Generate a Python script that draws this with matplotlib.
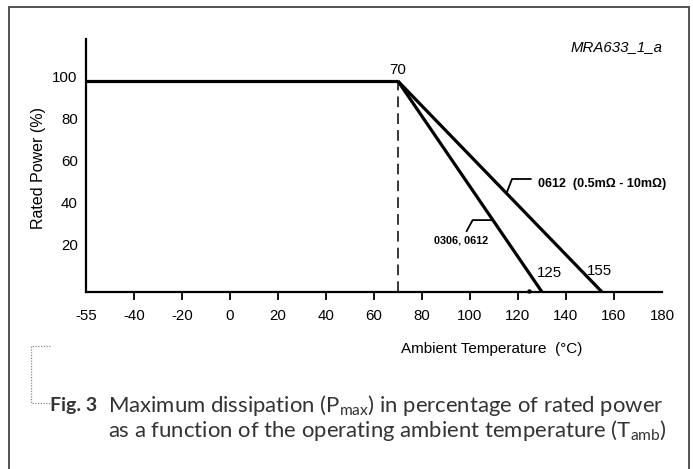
import matplotlib
matplotlib.use("Agg")
import matplotlib.pyplot as plt
from matplotlib.transforms import ScaledTranslation
from matplotlib.patches import Rectangle
from matplotlib.lines import Line2D
from matplotlib import font_manager

# ---- data ----
temp_flat = [-60, 70]
power_flat = [100, 100]
temp_a = [70, 130]        # 0306, 0612
power_a = [100, 0]
temp_b = [70, 155]        # 0612 (0.5mΩ - 10mΩ)
power_b = [100, 0]
knee_temp = 70
xtick_pos = [-60, -40, -20, 0, 20, 40, 60, 80, 100, 120, 140, 160, 180]
xtick_labels = ["-55", "-40", "-20", "0", "20", "40", "60", "80", "100", "120", "140", "160", "180"]
ytick_pos = [20, 40, 60, 80, 100]
ytick_labels = ["20", "40", "60", "80", "100"]

plt.rcParams["mathtext.fontset"] = "custom"
plt.rcParams["mathtext.rm"] = "Lato"
plt.rcParams["mathtext.it"] = "Lato:italic"

names = {f.name for f in font_manager.fontManager.ttflist}
narrow = "Liberation Sans Narrow" if "Liberation Sans Narrow" in names else "Liberation Sans"
narrow_size = 9 if narrow == "Liberation Sans Narrow" else 7.8

W, H = 693, 469
fig = plt.figure(figsize=(W / 100, H / 100), dpi=100)

def fx(px):
    return px / W

def fy(py):
    return 1 - py / H

# axes placement (pixels)
L, R, T, B = 86, 662, 39, 292
ax = fig.add_axes([fx(L), fy(B), fx(R - L), (B - T) / H])
ax.set_xlim(-60, 180)
ax.set_ylim(0, 120)
ax.patch.set_alpha(0)

for s in ["top", "right"]:
    ax.spines[s].set_visible(False)
for s in ["left", "bottom"]:
    ax.spines[s].set_linewidth(1.6)
    ax.spines[s].set_color("black")

tickfont = dict(family="Liberation Sans", size=10.8)
ax.set_xticks(xtick_pos)
ax.set_xticklabels(xtick_labels, **tickfont)
ax.set_yticks(ytick_pos)
ax.set_yticklabels(ytick_labels, **tickfont)
ax.tick_params(axis="x", direction="out", length=6, width=1.3, pad=6)
ax.tick_params(axis="y", length=0, pad=6)
xt = ax.xaxis.get_major_ticks()
for i in (0, len(xt) - 1):
    xt[i].tick1line.set_visible(False)
off = ScaledTranslation(0, 0.05, fig.dpi_scale_trans)
for lab in ax.get_yticklabels():
    lab.set_transform(lab.get_transform() + off)

lw = 2.3
ax.plot(temp_flat, power_flat, color="black", lw=lw, solid_capstyle="butt", clip_on=False)
ax.plot(temp_a, power_a, color="black", lw=lw, solid_capstyle="butt", clip_on=False)
ax.plot(temp_b, power_b, color="black", lw=lw, solid_capstyle="butt", clip_on=False)
ax.plot([knee_temp, knee_temp], [0, 100], color="black", lw=1.1, dashes=(7, 4))
ax.plot([124.7], [0.4], marker="o", ms=2.2, color="black", clip_on=False)

labfont = dict(family="Liberation Sans", size=10.8, color="black")
ax.text(70, 105.2, "70", ha="center", va="center", **labfont)
ax.text(132.9, 9.0, "125", ha="center", va="center", **labfont)
ax.text(153.8, 10.0, "155", ha="center", va="center", **labfont)

# leaders + annotations
ax.plot([115.3, 117.5, 125.3], [47.1, 53.6, 53.6], color="black", lw=1.3)
ax.text(128.3, 51.4, "0612  (0.5m\u03a9 - 10m\u03a9)", ha="left", va="center",
        family="Liberation Sans", weight="bold", size=9)
ax.plot([98.6, 101.1, 109.0], [28.9, 34.1, 34.1], color="black", lw=1.3)
ax.text(96.2, 24.6, "0306, 0612", ha="center", va="center",
        family=narrow, weight="bold", size=narrow_size)

# outside texts
fig.text(fx(663), fy(47), "MRA633_1_a", ha="right", va="center",
         family="Liberation Sans", style="italic", size=10.8)
fig.text(fx(38), fy(168), "Rated Power (%)", rotation=90, ha="center", va="center",
         family="Liberation Sans", size=11.5)
fig.text(fx(492), fy(349), "Ambient Temperature  (\u00b0C)", ha="center", va="center",
         family="Liberation Sans", size=11)

# frame
fig.patches.append(Rectangle((fx(9), fy(480)), fx(680), (480 - 7) / H, transform=fig.transFigure,
                             fill=False, edgecolor="#444444", lw=1.3))
# dotted bracket
fig.lines.append(Line2D([fx(50), fx(31), fx(31), fx(50)], [fy(346), fy(346), fy(403), fy(403)],
                        transform=fig.transFigure, color="#888888", lw=0.9, linestyle=(0, (1, 1.2))))

capc = "#333333"
fig.text(fx(50), fy(406), "Fig. 3", ha="left", va="center", family="Lato", weight="bold",
         size=14, color=capc)
fig.text(fx(108), fy(406), r"Maximum dissipation (P$_{\mathrm{max}}$) in percentage of rated power",
         ha="left", va="center", family="Lato", weight="normal", size=15.9, color=capc)
fig.text(fx(108), fy(430), r"as a function of the operating ambient temperature (T$_{\mathrm{amb}}$)",
         ha="left", va="center", family="Lato", weight="normal", size=15.9, color=capc)

fig.savefig("out.png", dpi=100)
